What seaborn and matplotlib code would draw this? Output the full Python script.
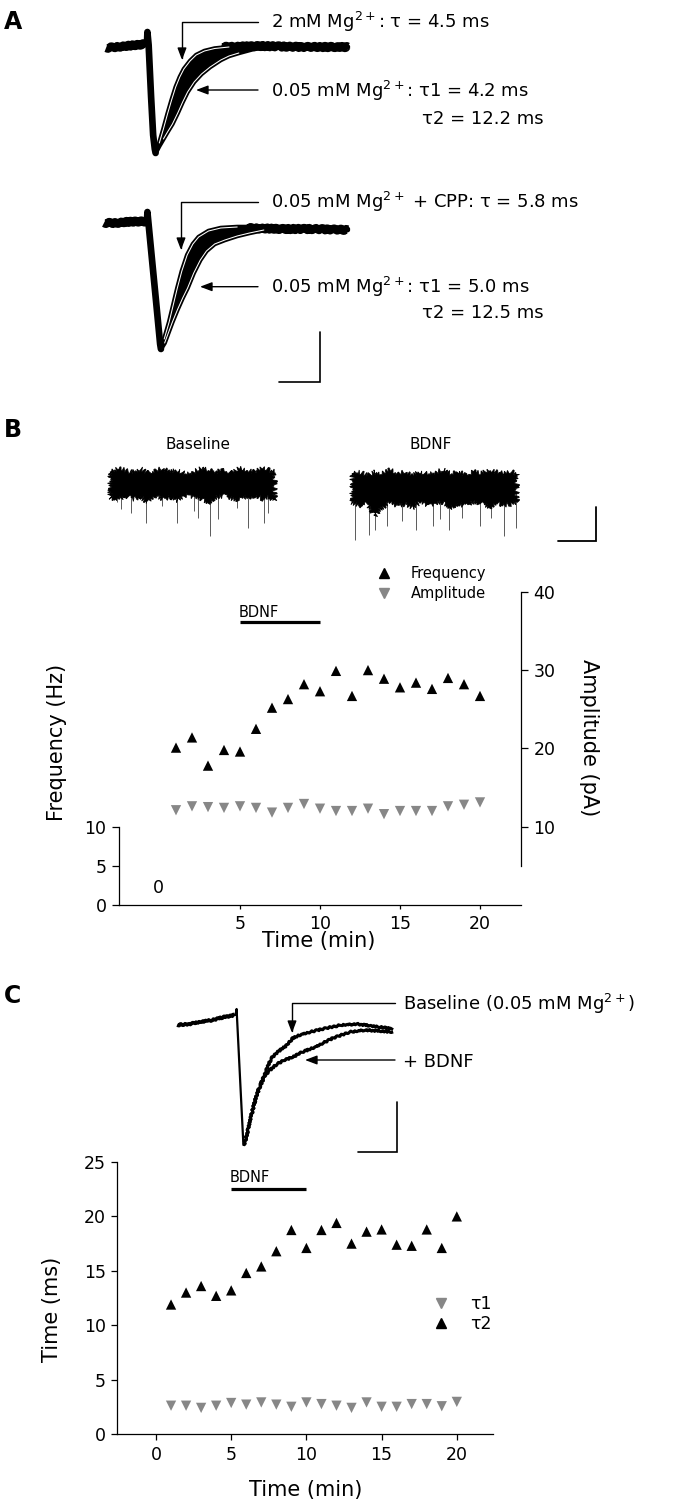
import matplotlib
matplotlib.use("Agg")
import matplotlib.pyplot as plt
import seaborn as sns
from matplotlib.lines import Line2D

# ============================ DATA ============================
# Time course, one point per minute
minutes = list(range(1, 21))
frequency_hz = [20.1, 21.4, 17.8, 19.8, 19.6, 22.5, 25.2, 26.3, 28.2, 27.3,
                29.9, 26.7, 30.0, 28.9, 27.8, 28.4, 27.6, 29.0, 28.2, 26.7]
amplitude_pa = [12.1, 12.6, 12.5, 12.4, 12.6, 12.4, 11.8, 12.4, 12.9, 12.3,
                12.0, 12.0, 12.3, 11.6, 12.0, 12.0, 12.0, 12.6, 12.8, 13.1]
tau1_ms = [2.6, 2.6, 2.4, 2.6, 2.85, 2.7, 2.9, 2.7, 2.5, 2.9,
           2.75, 2.6, 2.4, 2.9, 2.5, 2.5, 2.75, 2.75, 2.55, 2.95]
tau2_ms = [11.9, 13.0, 13.6, 12.7, 13.2, 14.8, 15.4, 16.8, 18.75, 17.1,
           18.75, 19.4, 17.5, 18.6, 18.8, 17.4, 17.3, 18.8, 17.1, 20.0]
bdnf_window_min = [5, 10]

b_x_ticks = [5, 10, 15, 20]
b_left_ticks = [0, 5, 10]
b_right_ticks = [10, 20, 30, 40]
c_x_ticks = [0, 5, 10, 15, 20]
c_y_ticks = [0, 5, 10, 15, 20, 25]

# Panel A traces (time in ms from stimulus, current in pA)
a1_pre_t = [-10.0, -7.5, -5.0, -2.5, -0.3]
a1_pre_i = [-1, 0, 1, 2, 3]
a1_on_t = [-0.3, 0.0, 0.1, 0.4, 1.0, 1.5, 1.9, 2.1]
a1_on_i = [3, 4, 15, 2, -50, -88, -102, -106]
a1_fast_t = [2.1, 3.0, 4.0, 5.0, 6.0, 7.0, 8.0, 9.0, 10.5, 12.0, 14.0, 16.5, 20.0, 30.0, 40.0, 49.0]
a1_fast_i = [-106, -96, -82, -67, -53, -40, -30, -22, -14, -8, -4, -1.5, 0, 0, 0, 0]
a1_slow_t = [2.1, 3.0, 4.0, 5.0, 6.2, 7.5, 8.7, 9.9, 11.5, 13.3, 15.4, 18.0, 20.0, 22.4, 26.0, 30.0, 40.0, 49.0]
a1_slow_i = [-106, -99, -92, -85, -77, -66, -55, -45, -35, -27, -20, -13, -9, -6, -2, 0, 0, 0]
a1_post_t = [18.0, 28.0, 38.0, 49.0]
a1_post_i = [0, 1, 0, 0]

a2_pre_t = [-10.5, -7.5, -5.0, -2.5, -0.3]
a2_pre_i = [0, 0, 1, 1.5, 1.5]
a2_on_t = [-0.3, 0.0, 0.1, 0.5, 1.3, 2.2, 2.9, 3.2, 3.4]
a2_on_i = [1.5, 2, 11, -6, -40, -78, -108, -121, -126]
a2_fast_t = [3.4, 4.2, 5.4, 6.4, 7.4, 8.5, 9.8, 11.2, 12.6, 15.0, 18.0, 22.0, 30.0, 40.0, 49.0]
a2_fast_i = [-126, -116, -99, -82, -65, -48, -32, -21, -14, -8, -5, -4, -4, -5, -6]
a2_slow_t = [3.4, 4.3, 5.2, 6.2, 7.4, 8.7, 9.9, 11.4, 13.0, 14.5, 16.5, 19.0, 22.0, 25.0, 28.5, 35.0, 42.0, 49.0]
a2_slow_i = [-126, -120, -110, -99, -87, -75, -65, -50, -37, -28, -21, -17, -13, -10, -7, -6, -6, -7]
a2_post_t = [24.0, 33.0, 41.0, 49.0]
a2_post_i = [-5, -6, -6, -7]

# Panel B raw mEPSC traces (time in s, current in pA)
b_t = [0.0, 0.1, 0.2, 0.3, 0.4, 0.5, 0.6, 0.7, 0.8, 0.9, 1.0, 1.1,
       1.2, 1.3, 1.4, 1.5, 1.6, 1.7, 1.8, 1.9, 2.0, 2.1, 2.17]
b_base_top = [6, 8, 7, 6, 8, 5, 7, 8, 6, 7, 5, 6, 8, 7, 6, 7, 5, 8, 7, 6, 8, 7, 6]
b_base_bot = [-9, -11, -8, -10, -9, -12, -8, -10, -9, -11, -8, -9,
              -10, -12, -9, -8, -10, -11, -9, -8, -10, -9, -11]
b_base_spike_t = [0.09, 0.15, 0.27, 0.48, 0.68, 0.88, 1.10, 1.16, 1.31, 1.42, 1.67, 1.82, 2.02, 2.08]
b_base_spike_i = [-12, -16, -18, -24, -14, -24, -17, -21, -32, -22, -15, -27, -24, -18]
b_bdnf_top = [5, 6, 4, 6, 5, 7, 5, 6, 4, 6, 5, 6, 7, 5, 6, 4, 6, 5, 7, 6, 5, 6, 5]
b_bdnf_bot = [-12, -14, -13, -20, -15, -12, -14, -13, -15, -12, -14, -13,
              -12, -15, -13, -14, -12, -13, -15, -12, -14, -13, -12]
b_bdnf_spike_t = [0.04, 0.22, 0.30, 0.46, 0.66, 0.84, 1.07, 1.16, 1.28, 1.45, 1.68, 1.83, 2.00, 2.16]
b_bdnf_spike_i = [-34, -31, -28, -26, -23, -28, -26, -22, -28, -21, -26, -21, -32, -27]

# Panel C traces (ms, pA)
c_pre_t = [-15.1, -12.0, -9.0, -6.0, -3.0, -0.3]
c_pre_i = [-5, -4, -2, 0, 3, 5]
c_on_t = [-0.3, 0.0, 0.15, 0.6, 1.2, 1.9]
c_on_i = [5, 6, 11, -24, -71, -125]
c_base_t = [1.9, 2.3, 3.2, 4.2, 5.3, 6.3, 7.3, 8.2, 9.1, 11.0, 13.1, 14.6, 17.0, 20.0, 23.3, 27.0, 31.0, 35.0, 40.3]
c_base_i = [-125, -122, -108, -91, -75, -64, -55, -46, -38, -31, -25, -18, -14, -11, -8, -5, -4, -6, -9]
c_bdnf_t = [1.9, 2.3, 3.2, 4.2, 5.3, 6.3, 7.3, 8.2, 10.5, 12.5, 14.6, 17.0, 19.7, 22.3, 24.9, 29.2, 33.0, 37.0, 40.3]
c_bdnf_i = [-125, -122, -108, -91, -75, -65, -57, -52, -44, -40, -37, -32, -28, -23, -18, -12, -10, -11, -12]

# ============================ STYLE ============================
sns.set_theme(style="white")
plt.rcParams['font.family'] = ['DejaVu Sans']
plt.rcParams['mathtext.fontset'] = 'dejavusans'
plt.rcParams['axes.facecolor'] = 'none'
for k in ['text.color', 'axes.labelcolor', 'xtick.color', 'ytick.color', 'axes.edgecolor']:
    plt.rcParams[k] = 'black'

W, H, DPI = 690, 1506, 100
GRAY = '#878787'
TICK_FS = 12.5
LABEL_FS = 15
ANN_FS = 13
fig = plt.figure(figsize=(W / DPI, H / DPI), dpi=DPI)
fig.patch.set_facecolor('white')


def px_axes(L, T, R, B):
    return fig.add_axes([L / W, 1 - B / H, (R - L) / W, (B - T) / H])


def set_map(ax, L, T, R, B, x0, y0, sx, sy):
    ax.set_xlim((L - x0) / sx, (R - x0) / sx)
    ax.set_ylim((y0 - B) / sy, (y0 - T) / sy)


def draw_line(ax, t, i, lw, color='black', sketch=None, z=2, cap='round'):
    sns.lineplot(x=t, y=i, ax=ax, color=color, linewidth=lw, sort=False,
                 estimator=None, legend=False, zorder=z)
    ln = ax.lines[-1]
    ln.set_solid_joinstyle('round')
    ln.set_solid_capstyle(cap)
    if sketch:
        ln.set_sketch_params(*sketch)
    return ln


def ftext(x, y, s, **kw):
    return fig.text(x / W, 1 - y / H, s, **kw)


def arrow(ax, start, tip, bend=True):
    cs = 'angle,angleA=0,angleB=90,rad=0' if bend else 'arc3'
    ax.annotate('', xy=(tip[0], H - tip[1]), xycoords='figure pixels',
                xytext=(start[0], H - start[1]), textcoords='figure pixels',
                arrowprops=dict(arrowstyle='-|>,head_length=0.45,head_width=0.17',
                                connectionstyle=cs, lw=1.0, color='black',
                                shrinkA=0, shrinkB=0, mutation_scale=16))


NOISE_A = (1.0, 6.0, 2.0)
NOISE_C = (0.8, 4.0, 2.0)

# ============================ PANEL A ============================
for (ax_box, y0, pre, on, fast, slow, post, wf, ws) in [
        ((95, 25, 360, 165), 47, (a1_pre_t, a1_pre_i), (a1_on_t, a1_on_i),
         (a1_fast_t, a1_fast_i), (a1_slow_t, a1_slow_i), (a1_post_t, a1_post_i),
         slice(1, 13), slice(2, 14)),
        ((95, 195, 360, 392), 223, (a2_pre_t, a2_pre_i), (a2_on_t, a2_on_i),
         (a2_fast_t, a2_fast_i), (a2_slow_t, a2_slow_i), (a2_post_t, a2_post_i),
         slice(1, 12), slice(1, 15))]:
    ax = px_axes(*ax_box)
    ax.fill(fast[0] + slow[0][::-1], fast[1] + slow[1][::-1], color='black', lw=0, zorder=1)
    draw_line(ax, *pre, lw=6.0, sketch=NOISE_A, cap='butt')
    draw_line(ax, *on, lw=4.8)
    draw_line(ax, *fast, lw=3.3)
    draw_line(ax, *slow, lw=3.3)
    draw_line(ax, *post, lw=6.0, sketch=NOISE_A, cap='butt')
    draw_line(ax, fast[0][wf], fast[1][wf], lw=0.75, color='white', z=3)
    draw_line(ax, slow[0][ws], slow[1][ws], lw=0.75, color='white', z=3)
    ax.axis('off')
    set_map(ax, *ax_box, 147, y0, 4.1, 1.0)
    if y0 == 223:
        # scale bar: 10 ms, 50 pA
        ax.plot([32.2, 42.2, 42.2], [-159, -159, -109], color='black', lw=1.2,
                solid_joinstyle='miter')
        axA2 = ax
    else:
        axA1 = ax

arrow(axA1, (258, 21.7), (182, 60))
arrow(axA1, (258, 90), (196, 90), bend=False)
arrow(axA2, (258, 201.7), (181, 250))
arrow(axA2, (258, 286.7), (200, 286.7), bend=False)

ftext(271, 28.3, "2 mM Mg$^{2+}$: τ = 4.5 ms", fontsize=ANN_FS, va='baseline')
ftext(271, 96.6, "0.05 mM Mg$^{2+}$: τ1 = 4.2 ms", fontsize=ANN_FS, va='baseline')
ftext(422, 123.6, "τ2 = 12.2 ms", fontsize=ANN_FS, va='baseline')
ftext(271, 208.3, "0.05 mM Mg$^{2+}$ + CPP: τ = 5.8 ms", fontsize=ANN_FS, va='baseline')
ftext(271, 293.3, "0.05 mM Mg$^{2+}$: τ1 = 5.0 ms", fontsize=ANN_FS, va='baseline')
ftext(422, 318.3, "τ2 = 12.5 ms", fontsize=ANN_FS, va='baseline')

# ============================ PANEL B traces ============================
for (ax_box, x0, top, bot, sp_t, sp_i, title, tx) in [
        ((100, 455, 290, 550), 110, b_base_top, b_base_bot, b_base_spike_t, b_base_spike_i, 'Baseline', 198),
        ((340, 455, 610, 550), 352, b_bdnf_top, b_bdnf_bot, b_bdnf_spike_t, b_bdnf_spike_i, 'BDNF', 431)]:
    ax = px_axes(*ax_box)
    poly = ax.fill(b_t + b_t[::-1], top + bot[::-1], color='black', lw=0.6, zorder=2)[0]
    poly.set_sketch_params(2.5, 1.5, 3.0)
    ax.vlines(sp_t, -6, sp_i, color='#5a5a5a', lw=0.7, zorder=1)
    ax.axis('off')
    set_map(ax, *ax_box, x0, 482, 76.0, 1.7)
    ftext(tx, 448.6, title, fontsize=11, ha='center', va='baseline')
    axBt = ax
# scale bar 0.5 s, 20 pA
axBt.plot([2.71, 3.21, 3.21], [-34.7, -34.7, -14.7], color='black', lw=1.3, solid_joinstyle='miter')

# ============================ PANEL B plot ============================
BL, BT, BR, BB = 119, 560, 521, 905
axB = px_axes(BL, BT, BR, BB)
axB2 = axB.twinx()
sns.scatterplot(x=minutes, y=frequency_hz, marker='^', s=55, color='black',
                edgecolor='none', linewidth=0, ax=axB, legend=False, zorder=3)
sns.scatterplot(x=minutes, y=amplitude_pa, marker='v', s=55, color=GRAY,
                edgecolor='none', linewidth=0, ax=axB2, legend=False, zorder=3)
axB.plot(bdnf_window_min, [36.1, 36.1], color='black', lw=2.3, solid_capstyle='butt')
axB.text(4.9, 36.74, 'BDNF', fontsize=10.5, va='baseline', ha='left')
axB.text(-0.1, 1.5, '0', fontsize=TICK_FS, ha='center', va='baseline')
set_map(axB, BL, BT, BR, BB, 160, 905, 16.0, 7.83)
axB2.set_ylim(axB.get_ylim())
axB.set_xticks(b_x_ticks)
axB.set_yticks(b_left_ticks)
axB2.set_yticks(b_right_ticks)
for s in ['top', 'right']:
    axB.spines[s].set_visible(False)
for s in ['top', 'left', 'bottom']:
    axB2.spines[s].set_visible(False)
axB.spines['left'].set_bounds(0, 10)
axB2.spines['right'].set_bounds(5, 40)
for sp in list(axB.spines.values()) + list(axB2.spines.values()):
    sp.set_linewidth(0.9)
axB.tick_params(axis='x', bottom=True, length=3, width=0.9, pad=4, labelsize=TICK_FS)
axB.tick_params(axis='y', left=True, length=5, width=0.9, pad=4, labelsize=TICK_FS)
axB2.tick_params(axis='y', right=True, length=5, width=0.9, pad=4, labelsize=TICK_FS)
axB.set_xlabel('Time (min)', fontsize=LABEL_FS, va='center')
axB.xaxis.set_label_coords((319 - BL) / (BR - BL), (BB - 941) / (BB - BT))
axB.set_ylabel('Frequency (Hz)', fontsize=LABEL_FS, va='center')
axB.yaxis.set_label_coords((57 - BL) / (BR - BL), (BB - 742) / (BB - BT))
axB2.set_ylabel('Amplitude (pA)', fontsize=LABEL_FS, rotation=270, va='center')
axB2.yaxis.set_label_coords((589 - BL) / (BR - BL), (BB - 738) / (BB - BT))
hB = [Line2D([], [], ls='none', marker='^', color='black', markersize=7.4),
      Line2D([], [], ls='none', marker='v', color=GRAY, markersize=7.4)]
axB.legend(hB, ['Frequency', 'Amplitude'], loc='upper left',
           bbox_to_anchor=(377 / W, 1 - 566 / H), bbox_transform=fig.transFigure,
           frameon=False, fontsize=10.5, handlelength=1.0, handletextpad=1.3,
           labelspacing=0.35, borderpad=0, borderaxespad=0)

# ============================ PANEL C trace ============================
CT = (160, 995, 420, 1160)
axCt = px_axes(*CT)
draw_line(axCt, c_pre_t, c_pre_i, lw=2.6, sketch=NOISE_C, cap='butt')
draw_line(axCt, c_on_t, c_on_i, lw=1.6)
draw_line(axCt, c_base_t, c_base_i, lw=2.2, sketch=NOISE_C, cap='butt')
draw_line(axCt, c_bdnf_t, c_bdnf_i, lw=2.2, sketch=NOISE_C, cap='butt')
axCt.plot([31.3, 41.3, 41.3], [-132, -132, -82], color='black', lw=1.2, solid_joinstyle='miter')
axCt.axis('off')
set_map(axCt, *CT, 236, 1020, 3.9, 1.0)
arrow(axCt, (395, 1003), (292, 1033))
arrow(axCt, (395, 1060), (305, 1060), bend=False)
ftext(403, 1009.6, "Baseline (0.05 mM Mg$^{2+}$)", fontsize=ANN_FS, va='baseline')
ftext(403, 1066.6, "+ BDNF", fontsize=ANN_FS, va='baseline')

# ============================ PANEL C plot ============================
CL, CTp, CR, CB = 117, 1140, 493, 1434
axC = px_axes(CL, CTp, CR, CB)
sns.scatterplot(x=minutes, y=tau1_ms, marker='v', s=55, color=GRAY,
                edgecolor='none', linewidth=0, ax=axC, legend=False, zorder=3)
sns.scatterplot(x=minutes, y=tau2_ms, marker='^', s=55, color='black',
                edgecolor='none', linewidth=0, ax=axC, legend=False, zorder=3)
axC.plot(bdnf_window_min, [22.5, 22.5], color='black', lw=2.3, solid_capstyle='butt')
axC.text(4.92, 23.19, 'BDNF', fontsize=10.5, va='baseline', ha='left')
set_map(axC, CL, CTp, CR, CB, 156, 1434, 15.04, 10.88)
axC.set_xticks(c_x_ticks)
axC.set_yticks(c_y_ticks)
for s in ['top', 'right']:
    axC.spines[s].set_visible(False)
axC.spines['left'].set_bounds(0, 25)
for sp in axC.spines.values():
    sp.set_linewidth(0.9)
axC.tick_params(axis='x', bottom=True, length=4, width=0.9, pad=5, labelsize=TICK_FS)
axC.tick_params(axis='y', left=True, length=4, width=0.9, pad=4, labelsize=TICK_FS)
axC.set_xlabel('Time (min)', fontsize=LABEL_FS, va='center')
axC.xaxis.set_label_coords((306 - CL) / (CR - CL), (CB - 1490) / (CB - CTp))
axC.set_ylabel('Time (ms)', fontsize=LABEL_FS, va='center')
axC.yaxis.set_label_coords((52 - CL) / (CR - CL), (CB - 1309) / (CB - CTp))
hC = [Line2D([], [], ls='none', marker='v', color=GRAY, markersize=7.4),
      Line2D([], [], ls='none', marker='^', color='black', markersize=7.4)]
axC.legend(hC, ['τ1', 'τ2'], loc='upper left',
           bbox_to_anchor=(432 / W, 1 - 1295 / H), bbox_transform=fig.transFigure,
           frameon=False, fontsize=12.5, handlelength=1.0, handletextpad=1.2,
           labelspacing=0.12, borderpad=0, borderaxespad=0)

# ============================ panel letters ============================
for letter, yb in [('A', 28.6), ('B', 436.6), ('C', 1002.6)]:
    ftext(4, yb, letter, fontsize=17, fontweight='bold', va='baseline')

fig.savefig('out.png', dpi=DPI, facecolor='white')
